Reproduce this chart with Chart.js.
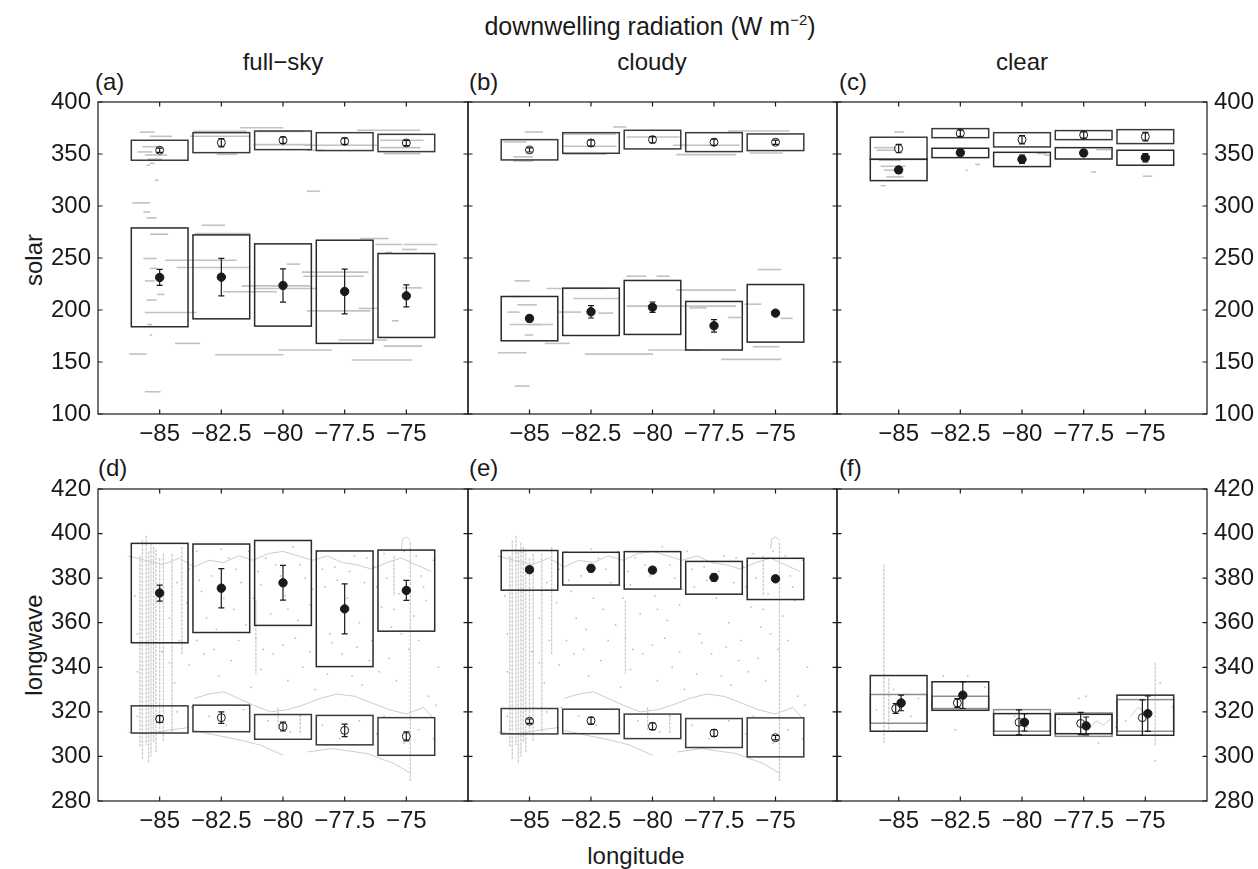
<!DOCTYPE html>
<html>
<head>
<meta charset="utf-8">
<script src="https://cdn.jsdelivr.net/npm/chart.js@4.4.1/dist/chart.umd.min.js"></script>
<style>
  body { margin: 0; background: #fff; }
  #fig { position: relative; width: 1258px; height: 869px; overflow: hidden; background: #fff;
         font-family: 'Liberation Sans', Arial, Helvetica, sans-serif; color: #1a1a1a; }
  #fig canvas { position: absolute; }
  .lbl { position: absolute; font-size: 24px; line-height: 1; white-space: nowrap; }
  .ctr { transform: translateX(-50%); }
  .rot { transform: translate(-50%, -50%) rotate(-90deg); }
</style>
</head>
<body>
<div id="fig">
  <div class="lbl ctr" style="left:650px;top:14px;font-size:25px">downwelling radiation (W m<span style="font-size:15px;position:relative;top:-10px">&minus;2</span>)</div>
  <div class="lbl ctr" style="left:283px;top:50px">full&minus;sky</div>
  <div class="lbl ctr" style="left:652px;top:50px">cloudy</div>
  <div class="lbl ctr" style="left:1022px;top:50px">clear</div>
  <div class="lbl" style="left:95px;top:70px">(a)</div>
  <div class="lbl" style="left:469px;top:70px">(b)</div>
  <div class="lbl" style="left:839px;top:70px">(c)</div>
  <div class="lbl" style="left:98px;top:456px">(d)</div>
  <div class="lbl" style="left:469px;top:456px">(e)</div>
  <div class="lbl" style="left:839px;top:456px">(f)</div>
  <div class="lbl rot" style="left:34px;top:260px">solar</div>
  <div class="lbl rot" style="left:34px;top:645px">longwave</div>
  <div class="lbl ctr" style="left:636px;top:844px">longitude</div>
</div>
<script>
// longitude bins and axis ticks
const lonTicks = [-85, -82.5, -80, -77.5, -75];
const solarTicks = [100, 150, 200, 250, 300, 350, 400];
const lwTicks = [280, 300, 320, 340, 360, 380, 400, 420];

// (a) solar, full-sky
const aOpenMean = [353.6, 360.9, 363.2, 362.2, 360.6];
const aOpenErr  = [2, 4, 3, 3, 2.5];
const aOpenLo   = [344.0, 351.3, 354.2, 353.3, 352.3];
const aOpenHi   = [363.2, 370.5, 372.1, 370.5, 368.9];
const aFillMean = [231.3, 231.6, 223.6, 217.8, 213.6];
const aFillErr  = [7.7, 18, 16, 21.5, 10.5];
const aFillLo   = [183.9, 191.5, 184.5, 167.9, 173.6];
const aFillHi   = [278.9, 272.2, 263.6, 267.1, 254.3];

// (b) solar, cloudy
const bOpenMean = [353.9, 360.6, 363.8, 361.3, 361.3];
const bOpenErr  = [2, 3, 3, 3, 2];
const bOpenLo   = [344.3, 350.7, 354.9, 352.3, 353.3];
const bOpenHi   = [363.8, 370.5, 372.8, 370.5, 369.3];
const bFillMean = [191.9, 198.3, 202.7, 184.8, 197.0];
const bFillErr  = [3, 6, 5, 6, 2];
const bFillLo   = [170.4, 175.5, 176.5, 161.5, 169.1];
const bFillHi   = [213.0, 221.0, 228.4, 208.2, 224.5];

// (c) solar, clear
const cOpenMean = [355.2, 369.9, 363.8, 368.3, 366.7];
const cOpenErr  = [4, 3, 4, 3, 4];
const cOpenLo   = [344.9, 365.7, 356.8, 363.8, 360.0];
const cOpenHi   = [366.1, 374.4, 370.5, 372.5, 373.4];
const cFillMean = [334.7, 351.3, 344.9, 351.0, 346.5];
const cFillErr  = [3, 3, 4, 3, 4];
const cFillLo   = [324.4, 346.5, 337.9, 345.2, 339.2];
const cFillHi   = [344.9, 355.5, 351.6, 356.1, 353.6];

// (d) longwave, full-sky
const dFillMean = [373.3, 375.5, 377.9, 366.2, 374.5];
const dFillErr  = [3.6, 8.8, 7.8, 11.2, 4.5];
const dFillLo   = [351.0, 355.6, 358.8, 340.3, 356.2];
const dFillHi   = [395.6, 395.3, 396.9, 392.2, 392.6];
const dOpenMean = [316.8, 317.4, 313.4, 311.7, 309.0];
const dOpenErr  = [1.5, 2.6, 2, 2.8, 2];
const dOpenLo   = [310.5, 311.1, 307.7, 305.2, 300.5];
const dOpenHi   = [322.7, 323.0, 318.8, 318.4, 317.4];

// (e) longwave, cloudy
const eFillMean = [383.8, 384.4, 383.6, 380.3, 379.7];
const eFillErr  = [1.2, 1.5, 1.2, 1.5, 1.2];
const eFillLo   = [374.6, 376.9, 375.1, 372.8, 370.4];
const eFillHi   = [392.4, 391.6, 391.9, 387.5, 388.9];
const eOpenMean = [315.8, 316.0, 313.5, 310.5, 308.4];
const eOpenErr  = [1, 1.5, 1.5, 1.5, 1];
const eOpenLo   = [310.1, 310.2, 308.0, 304.0, 299.8];
const eOpenHi   = [321.5, 321.2, 319.0, 317.0, 317.3];

// (f) longwave, clear
const fOpenMean = [321.5, 324.0, 315.3, 314.8, 317.4];
const fOpenErr  = [2.2, 2, 5.6, 5, 8];
const fOpenLo   = [314.9, 321.5, 311.3, 309.0, 311.3];
const fOpenHi   = [327.8, 327.0, 321.0, 319.5, 325.5];
const fFillMean = [324.0, 327.5, 315.3, 313.7, 319.2];
const fFillErr  = [3.5, 6, 3.9, 4, 8];
const fFillLo   = [311.3, 320.7, 309.5, 310.2, 309.5];
const fFillHi   = [336.3, 333.5, 319.2, 318.9, 327.5];

// individual solar samples: [lon start, lon end, flux]
const aSamples = [
  [-81.74, -79.98, 375.3], [-77.0, -74.43, 372.8], [-83.63, -81.47, 371.8], [-83.77, -81.33, 367.0],
  [-81.2, -78.9, 359.0], [-79.17, -76.19, 358.4], [-76.06, -74.43, 356.1], [-76.06, -74.3, 363.2],
  [-75.92, -74.43, 350.4], [-79.03, -78.36, 353.6], [-82.69, -81.87, 349.7], [-81.06, -79.17, 371.8],
  [-85.8, -85.2, 371], [-85.4, -84.5, 367], [-85.7, -85.0, 357], [-85.9, -85.3, 352], [-85.6, -84.7, 349],
  [-85.5, -84.9, 345], [-85.4, -85.2, 341], [-85.53, -85.39, 339.2], [-85.19, -85.05, 324.8],
  [-79.03, -78.49, 314.2], [-86.11, -85.39, 303.0], [-85.66, -85.39, 294.3], [-85.53, -85.12, 288.6],
  [-83.3, -82.35, 281.5], [-85.39, -84.65, 272.9], [-83.57, -81.33, 273.5], [-76.87, -75.72, 268.7],
  [-76.26, -75.18, 263.0], [-75.11, -73.75, 263.0], [-75.18, -74.57, 258.2], [-75.85, -75.58, 255.3],
  [-85.66, -85.12, 249.5], [-84.78, -81.87, 247.9], [-79.84, -79.3, 244.1], [-84.31, -81.33, 240.9],
  [-79.24, -76.53, 236.4], [-79.17, -76.73, 232.5], [-81.67, -78.9, 223.2], [-81.2, -78.63, 220.7],
  [-75.18, -74.36, 221.3], [-82.42, -80.25, 217.5], [-85.53, -85.12, 209.5], [-76.94, -76.19, 201.5],
  [-79.03, -76.46, 199.2], [-85.6, -83.5, 197.6], [-75.58, -75.31, 189.6], [-77.75, -75.78, 171.1],
  [-84.38, -83.36, 167.9], [-75.92, -74.36, 165.3], [-80.18, -78.02, 161.5], [-86.23, -85.53, 157.6],
  [-82.75, -79.98, 157.0], [-77.21, -74.77, 151.9], [-85.6, -84.96, 121.4], [-85.4, -85.1, 240],
  [-85.6, -85.2, 228], [-85.1, -84.8, 215], [-85.5, -85.3, 186], [-85.4, -85.3, 176]
];
const bSamples = [
  [-81.6, -81.06, 376.0], [-76.94, -74.43, 372.1], [-85.19, -84.45, 371.2], [-86.06, -85.12, 361.6],
  [-79.17, -76.46, 358.4], [-83.63, -81.47, 357.4], [-76.06, -74.7, 351.0], [-83.63, -81.87, 349.7],
  [-79.03, -76.6, 349.4], [-85.66, -84.85, 347.2], [-85.66, -84.85, 343.3], [-83.63, -81.47, 369.0],
  [-81.06, -78.9, 366.4], [-75.72, -74.77, 238.9], [-81.06, -80.25, 232.5], [-79.84, -79.3, 232.5],
  [-85.6, -84.99, 228.0], [-84.31, -81.87, 220.7], [-79.03, -76.6, 219.1], [-83.23, -81.33, 211.1],
  [-76.26, -75.58, 205.6], [-81.06, -76.6, 203.7], [-76.94, -76.4, 192.8], [-85.8, -84.04, 186.1],
  [-85.19, -84.85, 175.9], [-84.38, -83.36, 167.9], [-75.92, -74.84, 164.7], [-80.18, -78.02, 161.5],
  [-86.29, -85.12, 158.9], [-82.75, -79.98, 157.6], [-77.21, -74.77, 152.5], [-85.6, -84.99, 126.9],
  [-85.8, -85.3, 213], [-85.5, -84.7, 205], [-85.9, -85.4, 198], [-85.0, -84.5, 186],
  [-83.8, -82.9, 198], [-82.2, -81.6, 197], [-78.5, -77.8, 202], [-74.8, -74.3, 192]
];
const cSamples = [
  [-85.19, -84.78, 371.2], [-86.0, -85.12, 356.1], [-85.9, -85.1, 353.6], [-85.8, -84.92, 344.0],
  [-85.73, -84.72, 338.2], [-85.6, -84.99, 334.4], [-85.5, -84.8, 328], [-85.73, -85.53, 319.6],
  [-82.29, -82.2, 334.4], [-79.1, -78.83, 348.8], [-77.0, -76.4, 354.2], [-77.2, -77.0, 332.8],
  [-75.1, -74.72, 328.6], [-81.9, -81.7, 340], [-79.4, -79.0, 350.5]
];

// longwave samples along the ship track: vertical runs [lon, low, high], tracks and single points
const lwRuns = [
  [-85.8, 304, 390], [-85.7, 299, 397], [-85.55, 305, 399], [-85.45, 297, 392], [-85.35, 300, 396],
  [-85.25, 306, 394], [-85.15, 302, 393], [-85.0, 310, 389], [-84.85, 307, 391], [-84.5, 311, 391],
  [-84.1, 346, 394], [-81.1, 337, 370], [-80.2, 312, 322], [-79.3, 310, 319], [-75.5, 372, 390],
  [-74.84, 289, 396]
];
const lwTracks = [
  [[-86.3, 390], [-85.6, 388], [-84.9, 386], [-84.2, 389], [-83.6, 385], [-83.0, 388], [-82.4, 387],
   [-81.8, 390], [-81.2, 388], [-80.6, 391], [-80.0, 392], [-79.4, 390], [-78.8, 388], [-78.2, 390],
   [-77.6, 387], [-77.0, 386], [-76.4, 384], [-75.8, 387], [-75.2, 389], [-74.6, 386], [-74.0, 383]],
  [[-75.2, 393], [-75.15, 397.5], [-75.0, 398.5], [-74.84, 397]],
  [[-83.6, 326], [-83.0, 328], [-82.4, 329], [-81.8, 326], [-81.2, 323], [-80.5, 320], [-79.8, 321],
   [-79.2, 323], [-78.5, 326], [-77.8, 328], [-77.1, 327], [-76.4, 324], [-75.7, 321], [-75.0, 319],
   [-74.3, 322], [-73.9, 317]],
  [[-86.3, 311], [-85.5, 310], [-84.5, 312], [-83.8, 313]],
  [[-83.6, 311.7], [-82.7, 309.5], [-81.7, 307.3], [-80.9, 305.0], [-80.0, 300.5]],
  [[-79.0, 302.0], [-78.0, 303.5], [-76.6, 301.3], [-75.5, 296.8], [-74.8, 292.3]]
];
const lwPoints = [
  [-86.0, 372], [-85.9, 355], [-84.6, 362], [-84.3, 378], [-84.2, 352], [-83.9, 369], [-83.5, 392],
  [-83.3, 374], [-83.1, 362], [-82.9, 381], [-82.7, 357], [-82.2, 389], [-82.0, 366], [-81.7, 378],
  [-81.5, 359], [-81.4, 392], [-81.2, 371], [-81.0, 383], [-80.8, 348], [-80.5, 364], [-80.3, 386],
  [-79.9, 372], [-79.6, 394], [-79.4, 361], [-79.1, 380], [-78.9, 368], [-78.6, 392], [-78.3, 376],
  [-78.1, 355], [-77.9, 385], [-77.6, 346], [-77.4, 371], [-77.1, 390], [-76.9, 360], [-76.7, 378],
  [-76.5, 343], [-76.3, 385], [-76.0, 367], [-75.8, 380], [-75.6, 358], [-75.3, 373], [-75.1, 392],
  [-74.7, 363], [-74.4, 381], [-74.2, 370], [-73.9, 388], [-85.9, 338], [-84.4, 333], [-83.8, 341],
  [-83.2, 346], [-82.6, 336], [-82.1, 343], [-81.3, 331], [-80.9, 339], [-80.4, 346], [-79.8, 334],
  [-79.2, 340], [-78.7, 330], [-78.2, 337], [-77.2, 336], [-76.8, 332], [-76.1, 338], [-75.7, 344],
  [-75.4, 334], [-74.9, 348], [-74.1, 327], [-73.8, 323], [-85.9, 318], [-84.3, 320], [-83.7, 322],
  [-83.0, 318], [-82.3, 314], [-81.6, 321], [-80.6, 316], [-79.7, 311], [-79.3, 318], [-78.4, 314],
  [-77.7, 308], [-76.9, 316], [-76.2, 310], [-75.9, 318], [-75.1, 306], [-74.5, 312], [-73.9, 308],
  [-83.8, 384], [-83.4, 379], [-82.5, 393], [-82.4, 371], [-81.9, 384], [-80.9, 377], [-80.7, 389],
  [-80.1, 381], [-79.8, 366], [-79.3, 386], [-78.8, 375], [-78.4, 384], [-77.8, 379], [-77.3, 383],
  [-76.6, 389], [-76.2, 376], [-75.9, 391], [-75.5, 366], [-74.6, 390], [-74.3, 376], [-84.9, 347],
  [-84.6, 342], [-83.5, 352], [-82.8, 348], [-81.8, 352], [-81.1, 353], [-80.0, 350], [-79.5, 353],
  [-78.9, 347], [-78.0, 351], [-77.0, 349], [-76.4, 352], [-75.2, 355], [-74.5, 352], [-73.7, 340]
];
const fRuns = [[-85.6, 306, 386], [-85.4, 312, 335], [-74.6, 305, 342]];
const fTracks = [
  [[-77.3, 312], [-77.0, 316], [-76.7, 314], [-76.4, 317]],
  [[-75.6, 318], [-75.3, 322], [-75.0, 320]]
];
const fPoints = [
  [-85.9, 321], [-85.2, 330], [-84.5, 318], [-84.2, 326], [-83.2, 336], [-82.7, 312], [-82.2, 336],
  [-81.5, 331], [-80.3, 318], [-79.8, 313], [-78.5, 317], [-77.7, 326], [-77.4, 327], [-76.9, 306],
  [-76.2, 313], [-75.8, 316], [-74.4, 333], [-74.6, 298], [-73.9, 322]
];

const FONT = "'Liberation Sans', Arial, Helvetica, sans-serif";
const INK = '#1a1a1a';
const GRAY = '#c2c2c2';
const BOX_HALF = 1.15;   // half width of a longitude bin box (deg)

const cols = [
  { left: 0,   width: 469, padL: 0, padR: 1, yPos: 'left',  yShow: true,  yW: 98 },
  { left: 467, width: 371, padL: 1, padR: 1, yPos: 'left',  yShow: false, yW: 0 },
  { left: 836, width: 422, padL: 1, padR: 0, yPos: 'right', yShow: true,  yW: 51 }
];
const rowTops = [88, 475];

const panels = [
  { col: 0, row: 0, yMin: 100, yMax: 400, yTicks: solarTicks,
    open: [aOpenMean, aOpenErr, aOpenLo, aOpenHi], fill: [aFillMean, aFillErr, aFillLo, aFillHi], segs: aSamples },
  { col: 1, row: 0, yMin: 100, yMax: 400, yTicks: solarTicks,
    open: [bOpenMean, bOpenErr, bOpenLo, bOpenHi], fill: [bFillMean, bFillErr, bFillLo, bFillHi], segs: bSamples },
  { col: 2, row: 0, yMin: 100, yMax: 400, yTicks: solarTicks,
    open: [cOpenMean, cOpenErr, cOpenLo, cOpenHi], fill: [cFillMean, cFillErr, cFillLo, cFillHi], segs: cSamples },
  { col: 0, row: 1, yMin: 280, yMax: 420, yTicks: lwTicks,
    open: [dOpenMean, dOpenErr, dOpenLo, dOpenHi], fill: [dFillMean, dFillErr, dFillLo, dFillHi],
    runs: lwRuns, tracks: lwTracks, points: lwPoints },
  { col: 1, row: 1, yMin: 280, yMax: 420, yTicks: lwTicks,
    open: [eOpenMean, eOpenErr, eOpenLo, eOpenHi], fill: [eFillMean, eFillErr, eFillLo, eFillHi],
    runs: lwRuns, tracks: lwTracks, points: lwPoints },
  { col: 2, row: 1, yMin: 280, yMax: 420, yTicks: lwTicks,
    open: [fOpenMean, fOpenErr, fOpenLo, fOpenHi], fill: [fFillMean, fFillErr, fFillLo, fFillHi],
    runs: fRuns, tracks: fTracks, points: fPoints,
    openShift: -0.12, fillShift: 0.1, openBox: '#8c8c8c' }
];

const fmt = v => (v < 0 ? '\u2212' : '') + Math.abs(v);

function drawBoxes(ctx, x, y, set, color) {
  const [, , lo, hi] = set;
  ctx.strokeStyle = color;
  ctx.lineWidth = 1.5;
  lonTicks.forEach((lon, i) => {
    const x1 = x.getPixelForValue(lon - BOX_HALF), x2 = x.getPixelForValue(lon + BOX_HALF);
    const y1 = y.getPixelForValue(hi[i]), y2 = y.getPixelForValue(lo[i]);
    ctx.strokeRect(x1, y1, x2 - x1, y2 - y1);
  });
}

function drawErrors(ctx, x, y, set, shift) {
  const [mean, err] = set;
  ctx.strokeStyle = INK;
  ctx.lineWidth = 1.2;
  lonTicks.forEach((lon, i) => {
    const px = x.getPixelForValue(lon + shift);
    const top = y.getPixelForValue(mean[i] + err[i]), bot = y.getPixelForValue(mean[i] - err[i]);
    ctx.beginPath();
    ctx.moveTo(px, top); ctx.lineTo(px, bot);
    ctx.moveTo(px - 3, top); ctx.lineTo(px + 3, top);
    ctx.moveTo(px - 3, bot); ctx.lineTo(px + 3, bot);
    ctx.stroke();
  });
}

function marksPlugin(p) {
  return {
    id: 'binMarks',
    beforeDatasetsDraw(chart) {
      const { ctx, chartArea: ca, scales: { x, y } } = chart;
      ctx.save();
      ctx.beginPath();
      ctx.rect(ca.left, ca.top, ca.width, ca.height);
      ctx.clip();

      // raw samples behind the bin statistics
      ctx.strokeStyle = GRAY;
      ctx.lineWidth = 1.6;
      (p.segs || []).forEach(([l1, l2, v]) => {
        const py = y.getPixelForValue(v);
        ctx.beginPath();
        ctx.moveTo(x.getPixelForValue(l1), py);
        ctx.lineTo(x.getPixelForValue(l2), py);
        ctx.stroke();
      });
      ctx.strokeStyle = '#cbcbcb';
      ctx.setLineDash([3, 1]);
      ctx.lineWidth = 1.3;
      (p.runs || []).forEach(([lon, lo, hi]) => {
        const px = x.getPixelForValue(lon);
        ctx.beginPath();
        ctx.moveTo(px, y.getPixelForValue(hi));
        ctx.lineTo(px, y.getPixelForValue(lo));
        ctx.stroke();
      });
      ctx.setLineDash([]);
      ctx.strokeStyle = '#cdcdcd';
      ctx.lineWidth = 1;
      (p.tracks || []).forEach(tr => {
        ctx.beginPath();
        tr.forEach(([lon, v], k) => {
          const px = x.getPixelForValue(lon), py = y.getPixelForValue(v);
          if (k === 0) ctx.moveTo(px, py); else ctx.lineTo(px, py);
        });
        ctx.stroke();
      });
      ctx.fillStyle = '#b8b8b8';
      (p.points || []).forEach(([lon, v]) => {
        ctx.fillRect(x.getPixelForValue(lon) - 0.75, y.getPixelForValue(v) - 0.75, 1.5, 1.5);
      });

      drawBoxes(ctx, x, y, p.open, p.openBox || '#3a3a3a');
      drawBoxes(ctx, x, y, p.fill, '#2a2a2a');
      drawErrors(ctx, x, y, p.open, p.openShift || 0);
      drawErrors(ctx, x, y, p.fill, p.fillShift || 0);
      ctx.restore();
    },
    afterDraw(chart) {
      const { ctx, chartArea: ca, scales: { x, y } } = chart;
      ctx.save();
      ctx.strokeStyle = INK;
      ctx.lineWidth = 1.2;
      ctx.strokeRect(ca.left, ca.top, ca.width, ca.height);
      const t = 4.5;
      ctx.beginPath();
      lonTicks.forEach(lon => {
        const px = x.getPixelForValue(lon);
        ctx.moveTo(px, ca.bottom); ctx.lineTo(px, ca.bottom - t);
        ctx.moveTo(px, ca.top); ctx.lineTo(px, ca.top + t);
      });
      p.yTicks.forEach(v => {
        const py = y.getPixelForValue(v);
        ctx.moveTo(ca.left, py); ctx.lineTo(ca.left + t, py);
        ctx.moveTo(ca.right, py); ctx.lineTo(ca.right - t, py);
      });
      ctx.stroke();
      ctx.restore();
    }
  };
}

const fig = document.getElementById('fig');

panels.forEach(p => {
  const c = cols[p.col];
  const cv = document.createElement('canvas');
  cv.width = c.width; cv.height = 362;
  cv.style.left = c.left + 'px';
  cv.style.top = rowTops[p.row] + 'px';
  cv.style.width = c.width + 'px';
  cv.style.height = '362px';
  fig.appendChild(cv);

  const pts = (mean, shift) => lonTicks.map((lon, i) => ({ x: lon + (shift || 0), y: mean[i] }));

  new Chart(cv, {
    type: 'scatter',
    data: {
      datasets: [
        { data: pts(p.fill[0], p.fillShift), pointRadius: 4.2, pointBackgroundColor: INK,
          pointBorderColor: INK, pointBorderWidth: 1 },
        { data: pts(p.open[0], p.openShift), pointRadius: 4, pointBackgroundColor: 'rgba(0,0,0,0)',
          pointBorderColor: INK, pointBorderWidth: 1 }
      ]
    },
    options: {
      responsive: false,
      animation: false,
      devicePixelRatio: 1,
      events: [],
      layout: { autoPadding: false, padding: { left: c.padL, right: c.padR, top: 14, bottom: 0 } },
      plugins: { legend: { display: false }, tooltip: { enabled: false } },
      scales: {
        x: {
          type: 'linear', min: -87.5, max: -72.5,
          afterBuildTicks: s => { s.ticks = lonTicks.map(v => ({ value: v })); },
          // fixed axis band, no extra edge padding so the plot box lands on the panel grid
          afterFit: s => { s.height = 36; s.paddingLeft = 0; s.paddingRight = 0; },
          ticks: { callback: fmt, color: INK, padding: 6, maxRotation: 0, autoSkip: false,
                   font: { family: FONT, size: 24 } },
          grid: { display: false, drawTicks: false },
          border: { display: false }
        },
        y: {
          type: 'linear', min: p.yMin, max: p.yMax, position: c.yPos, display: c.yShow,
          afterBuildTicks: s => { s.ticks = p.yTicks.map(v => ({ value: v })); },
          afterFit: s => { s.width = c.yW; s.paddingTop = 0; s.paddingBottom = 0; },
          ticks: { callback: fmt, color: INK, padding: 7, font: { family: FONT, size: 24 } },
          grid: { display: false, drawTicks: false },
          border: { display: false }
        }
      }
    },
    plugins: [marksPlugin(p)]
  });
});
</script>
</body>
</html>
